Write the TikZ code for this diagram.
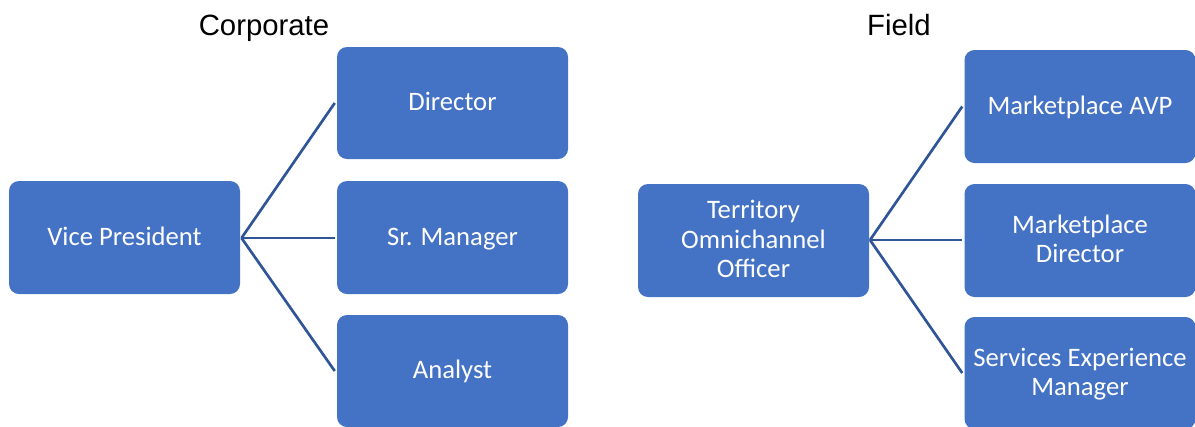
\documentclass[tikz,border=0pt]{standalone}
\usepackage{fontspec}
\setmainfont{Carlito}
\newfontfamily\titlefont{Liberation Sans}
\definecolor{boxblue}{HTML}{4472C4}
\definecolor{lineblue}{HTML}{2F5597}
\newcommand\tstrut{\rule[-5pt]{0pt}{21.5pt}}
\begin{document}
\begin{tikzpicture}[x=0.75pt,y=-0.75pt,
  orgbox/.style={draw=none, fill=boxblue, rounded corners=7.5pt, inner sep=0pt,
    minimum width=173.25pt, text=white, align=center,
    font=\fontsize{20pt}{22pt}\selectfont},
  conn/.style={draw=lineblue, line width=2pt},
  ttl/.style={font=\titlefont\fontsize{22pt}{26pt}\selectfont, text=black, inner sep=0pt, anchor=base}]
\useasboundingbox (0,0) rectangle (1195,426);
% titles
\node[ttl] (corp) at (264,35) {Corporate};
\node[ttl] (field) at (899,35) {Field};
% left group
\node[orgbox, minimum height=84.75pt] (vp) at (124.5,237.5) {\tstrut Vice President};
\node[orgbox, minimum height=84pt] (dir) at (452.5,103) {\tstrut Director};
\node[orgbox, minimum height=84.75pt] (srm) at (452.5,237.5) {\tstrut Sr. Manager};
\node[orgbox, minimum height=84pt] (ana) at (452.5,371) {\tstrut Analyst};
\coordinate (vpj) at (241.5,238);
\draw[conn] (vpj) -- ([xshift=-1.5pt]dir.west);
\draw[conn] (vpj) -- ([xshift=-1.5pt]srm.west |- vpj);
\draw[conn] (vpj) -- ([xshift=-1.5pt]ana.west);
% right group
\node[orgbox, minimum height=84.75pt] (too) at (753.5,240.5) {\tstrut Territory\\Omnichannel\\Officer\tstrut};
\node[orgbox, minimum height=84.75pt] (avp) at (1080,106.5) {\tstrut Marketplace AVP};
\node[orgbox, minimum height=84.75pt] (mdir) at (1080,240.5) {\tstrut Marketplace\\Director\tstrut};
\node[orgbox, minimum height=84pt] (sem) at (1080,373) {\tstrut Services Experience\\Manager\tstrut};
\coordinate (tooj) at (870,240);
\draw[conn] (tooj) -- ([xshift=-1.5pt]avp.west);
\draw[conn] (tooj) -- ([xshift=-1.5pt]mdir.west |- tooj);
\draw[conn] (tooj) -- ([xshift=-1.5pt]sem.west);
\end{tikzpicture}
\end{document}
